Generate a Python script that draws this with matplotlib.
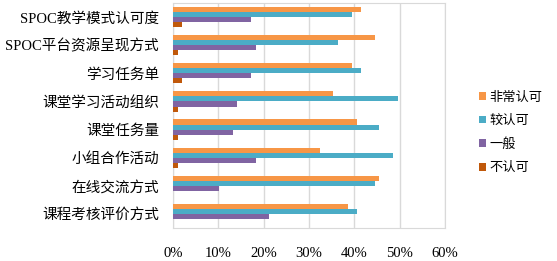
import matplotlib
matplotlib.use("Agg")
import matplotlib.pyplot as plt
import numpy as np

plt.rcParams['font.family'] = ['Liberation Serif', 'Noto Sans CJK SC']

# 评价项目
categories = ['SPOC教学模式认可度', 'SPOC平台资源呈现方式', '学习任务单', '课堂学习活动组织',
              '课堂任务量', '小组合作活动', '在线交流方式', '课程考核评价方式']

# 各等级比例 (%)
very_agree = [41.5, 44.6, 39.5, 35.4, 40.5, 32.4, 45.5, 38.5]
agree = [39.5, 36.4, 41.5, 49.6, 45.5, 48.6, 44.5, 40.5]
neutral = [17.2, 18.2, 17.2, 14.1, 13.2, 18.2, 10.1, 21.2]
disagree = [2.0, 1.0, 2.0, 1.0, 1.0, 1.0, 0.0, 0.0]

series = [very_agree, agree, neutral, disagree]
labels = ['非常认可', '较认可', '一般', '不认可']
colors = ['#F79646', '#4BACC6', '#8064A2', '#C0580A']

fig = plt.figure(figsize=(5.57, 2.61), dpi=100)
ax = fig.add_axes([173 / 557, 1 - 228 / 261, (445 - 173) / 557, 225 / 261])

y = np.arange(len(categories))
h = 0.18
for i, (vals, lab, col) in enumerate(zip(series, labels, colors)):
    ax.barh(y + (i - 1.5) * h, vals, height=h, color=col, label=lab, zorder=3)

ax.set_xlim(0, 60)
ax.set_ylim(len(categories) - 0.5, -0.5)
ax.set_xticks(np.arange(0, 61, 10))
ax.set_xticklabels([f'{v}%' for v in range(0, 61, 10)])
ax.set_yticks(y)
ax.set_yticklabels(categories)
ax.tick_params(length=0, labelsize=10.5)
ax.tick_params(axis='x', pad=14)
ax.tick_params(axis='y', pad=10)
ax.grid(axis='x', color='#D9D9D9', linewidth=1, zorder=0)
for s in ax.spines.values():
    s.set_color('#D9D9D9')

fig.legend(loc='center left', bbox_to_anchor=(0.86, 0.49), frameon=False,
           fontsize=9.5, handlelength=0.55, handleheight=0.55, handletextpad=0.25,
           labelspacing=0.85, borderaxespad=0, borderpad=0)

fig.savefig('out.png', dpi=100)
